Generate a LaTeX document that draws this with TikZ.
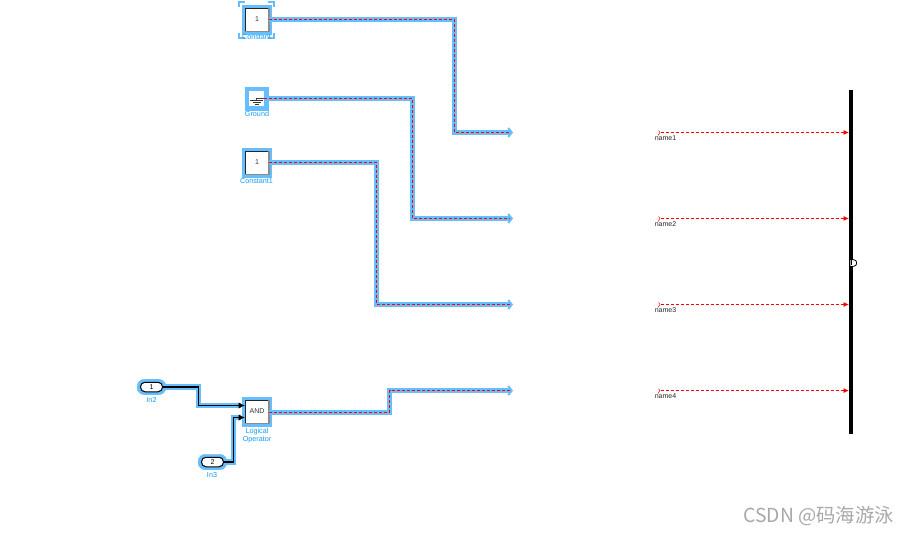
\documentclass[tikz,border=0pt]{standalone}
\usepackage{fontspec}
\setmainfont{Liberation Sans}
\newfontfamily\cjkwm{Noto Sans CJK SC}
\usetikzlibrary{arrows.meta}
\definecolor{hl}{HTML}{66BEFF}
\definecolor{lbl}{HTML}{0E9CF5}
\definecolor{wm}{HTML}{A8A8A8}
\tikzset{
  glow/.style={draw=hl,line width=5.6pt,line join=miter,-{Straight Barb[length=3.5pt,width=9pt,line width=2pt]}},
  core/.style={draw=red,line width=.9pt,dash pattern=on 3pt off 2pt},
  blackwire/.style={draw=black,line width=1.6pt,-{Latex[length=6.5pt,width=6.5pt]}},
  inglow/.style={draw=hl,line width=5.6pt},
  fromwire/.style={draw=red,line width=.8pt,dash pattern=on 3pt off 2pt,-{Latex[length=5.5pt,width=5pt]}},
  block/.style={draw=black!85,line width=.9pt,fill=white,minimum width=23pt,minimum height=23pt,inner sep=0pt,font=\fontsize{7pt}{8pt}\selectfont,text=black!80},
  blockshadow/.style={draw=black!45,line width=1.1pt},
  halo/.style={draw=hl,fill=hl,inner sep=0pt},
  pill/.style={draw=black,line width=1pt,fill=white,rounded corners=4.5pt,minimum width=22pt,minimum height=9.5pt,inner sep=0pt,font=\fontsize{7pt}{8pt}\selectfont},
  pillhalo/.style={draw=hl,fill=hl,rounded corners=7.5pt,minimum width=29pt,minimum height=15.5pt,inner sep=0pt},
  blabel/.style={text=lbl,font=\fontsize{7.2pt}{8.5pt}\selectfont,inner sep=0pt,align=center},
  tagtext/.style={text=black!85,font=\fontsize{7pt}{8pt}\selectfont,inner sep=0pt},
  tag/.style={draw=none,inner sep=0pt,minimum size=1pt},
  corner/.style={draw=hl,line width=1.6pt},
}
\begin{document}
\begin{tikzpicture}[x=1pt,y=-1pt]
\useasboundingbox (0,0) rectangle (910,534);
% halos
\node[halo,minimum width=29pt,minimum height=29pt] (h0) at (257,19.5) {};
\node[halo,minimum width=23pt,minimum height=23pt] (hg) at (256.5,98.5) {};
\node[halo,minimum width=29pt,minimum height=29pt] (h1) at (257,162.5) {};
\node[halo,minimum width=29pt,minimum height=29pt] (ha) at (257,411.5) {};
\node[pillhalo] (hi2) at (151.5,387) {};
\node[pillhalo] (hi3) at (212.5,462) {};
% selection corners on Constant
\draw[corner] (239,7) -- (239,2) -- (245,2);
\draw[corner] (268,2) -- (274,2) -- (274,7);
\draw[corner] (239,33) -- (239,38) -- (245,38);
\draw[corner] (268,38) -- (274,38) -- (274,33);
% free ends
\coordinate (g1) at (513,132.5);
\coordinate (g2) at (513,218.5);
\coordinate (g3) at (513,304.5);
\coordinate (g4) at (513,390.6);
% blocks
\node[block] (c0) at (257,19.5) {1};
\draw[blockshadow] (c0.north east) -- (c0.south east) -- (c0.south west);
\node[draw=none,fill=white,minimum width=15.5pt,minimum height=15.5pt,inner sep=0pt] (gnd) at (256.5,98.5) {};
\node[block] (c1) at (257,162.5) {1};
\draw[blockshadow] (c1.north east) -- (c1.south east) -- (c1.south west);
\node[block] (andb) at (257,411.5) {AND};
\draw[blockshadow] (andb.north east) -- (andb.south east) -- (andb.south west);
\node[pill] (in2) at (151.5,387) {1};
\node[pill] (in3) at (212.5,462) {2};
% ground symbol
\draw[black!75,line width=.6pt] (gnd.east) -- (256.5,98.5) -- (256.5,100);
\draw[black!80,line width=.8pt] (250,100.5) -- (263,100.5) (252.5,102.5) -- (260.5,102.5) (254.5,104.5) -- (258.5,104.5);
% wires
\draw[glow] (c0.east) -- (454.5,19.5) -- (454.5,132.5) -- (g1);
\draw[glow] (gnd.east) -- (412.5,98.5) -- (412.5,218.5) -- (g2);
\draw[glow] (c1.east) -- (376.5,162.5) -- (376.5,304.5) -- (g3);
\draw[glow] ([yshift=-1pt]andb.east) -- (389.5,412.5) -- (389.5,390.6) -- (g4);
\draw[core] (c0.east) -- (454.5,19.5) -- (454.5,132.5) -- (510,132.5);
\draw[core] (gnd.east) -- (412.5,98.5) -- (412.5,218.5) -- (510,218.5);
\draw[core] (c1.east) -- (376.5,162.5) -- (376.5,304.5) -- (510,304.5);
% input wires
\coordinate (a1) at (245,405.5);
\coordinate (a2) at (245,417.5);
\draw[inglow] (in2.east) -- (198.5,387) -- (198.5,405.5) -- (241,405.5);
\draw[inglow] (in3.east) -- (233.5,462) -- (233.5,417.5) -- (241,417.5);
\draw[blackwire] (in2.east) -- (198.5,387) -- (198.5,405.5) -- (a1);
\draw[blackwire] (in3.east) -- (233.5,462) -- (233.5,417.5) -- (a2);
% labels
\node[blabel] (l0) at (256.5,37.5) {Constant};
\node[blabel] (lg) at (257,113.5) {Ground};
\node[blabel] (l1) at (256.5,181) {Constant1};
\node[blabel] (la) at (257,435.5) {Logical\\Operator};
\node[blabel] (li2) at (151.5,400) {In2};
\node[blabel] (li3) at (212,475) {In3};
\draw[core] ([yshift=-1pt]andb.east) -- (389.5,412.5) -- (389.5,390.6) -- (510,390.6);
% bus
\node[draw=none,fill=black,minimum width=4.5pt,minimum height=344pt,inner sep=0pt] (bus) at (851,262) {};
\draw[fill=white,draw=black,line width=.8pt] (850,259.5) -- (853,259.5) .. controls (858,259.5) and (858,266.5) .. (853,266.5) -- (850,266.5) -- cycle;
\node[draw=none,fill=black,inner sep=0pt,minimum width=1.6pt,minimum height=5pt] (busout) at (851.5,263) {};
% from tags
\foreach \i/\y in {1/132.5,2/218.5,3/304.5,4/390.6}{
  \node[tag] (f\i) at (660,\y) {};
  \draw[red,line width=.5pt] (658.5,\y-2) -- (660,\y) -- (658,\y+3);
  \coordinate (b\i) at (849,\y);
  \draw[fromwire] (f\i) -- (b\i);
  \node[tagtext] (n\i) at (665.5,\y+6) {name\i};
}
% watermark
\node[text=wm,font=\cjkwm\fontsize{19.3pt}{21pt}\selectfont,anchor=east,inner sep=0pt] (wmk) at (894,516) {CSDN @码海游泳};
\end{tikzpicture}
\end{document}
